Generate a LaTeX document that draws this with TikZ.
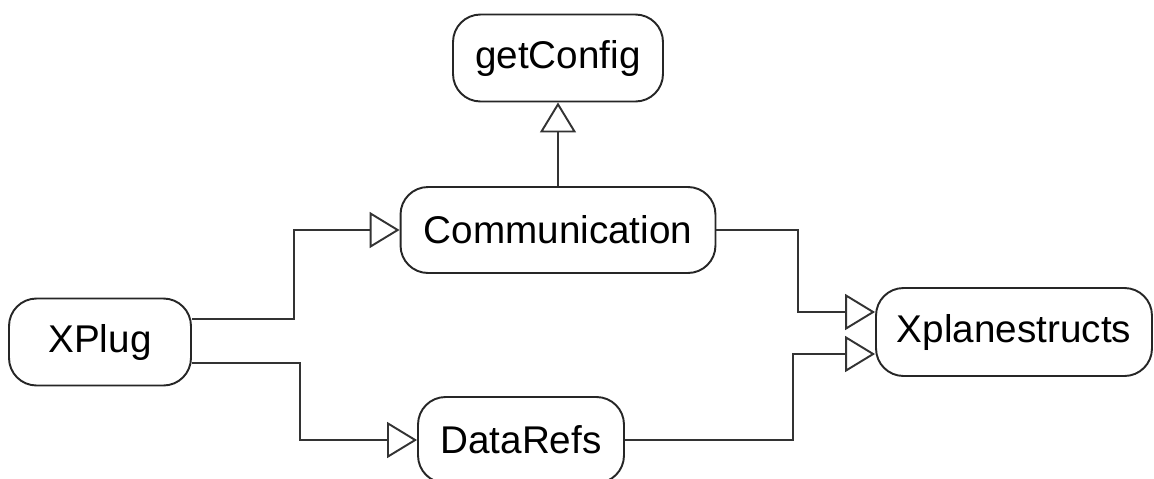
\documentclass[tikz,border=0pt]{standalone}
\usepackage{fontspec}
\setmainfont{Liberation Sans}
\usetikzlibrary{arrows.meta}
\begin{document}
\begin{tikzpicture}[x=0.02cm,y=-0.02cm]
            \tikzstyle{every node}+=[inner sep=0pt]
            \tikzstyle{module}=[draw=black!85, line width=1.1pt, rounded corners=0.55cm, font=\fontsize{22}{26}\selectfont]
            \tikzstyle{link}=[draw=black!80, line width=1.1pt, -{Triangle[open,length=0.6cm,width=0.72cm]}]
            \useasboundingbox (0,0) rectangle (1154,478);
            \node [module, minimum width=4.2cm, minimum height=1.74cm] (getconfig) at (558,58) {getConfig};
            \node [module, minimum width=6.3cm, minimum height=1.72cm] (comm) at (558,230) {Communication};
            \node [module, minimum width=3.64cm, minimum height=1.74cm] (xplug) at (100,342) {XPlug};
            \node [module, minimum width=5.52cm, minimum height=1.76cm] (xplane) at (1014,332) {Xplanestructs};
            \node [module, minimum width=4.12cm, minimum height=1.72cm] (datarefs) at (521,440) {DataRefs};
            \draw [link] (comm.north) -- (getconfig.south);
            \draw [link] (xplug.east |- 0,319) -- (294,319) |- (comm.west);
            \draw [link] (xplug.east |- 0,363) -- (300,363) |- (datarefs.west);
            \draw [link] (comm.east) -- (798,230) |- (xplane.west |- 0,312);
            \draw [link] (datarefs.east) -- (793,440) |- (xplane.west |- 0,354);
\end{tikzpicture}
\end{document}
